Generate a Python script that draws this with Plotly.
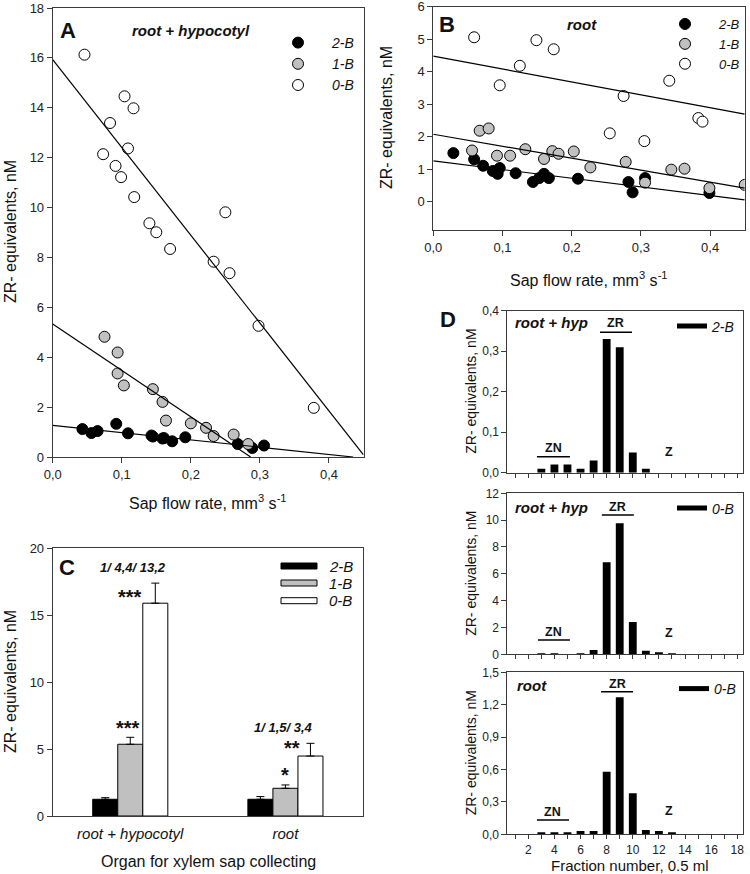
import plotly.graph_objects as go

W, H = 750, 874
FONT = "Liberation Sans, Arial, sans-serif"

# ---------------- Panel A data (root + hypocotyl) ----------------
a_x_2B = [0.043, 0.056, 0.065, 0.092, 0.109, 0.143, 0.145, 0.159, 0.161, 0.173, 0.192, 0.268, 0.289, 0.306]
a_y_2B = [1.12, 0.96, 1.04, 1.33, 0.95, 0.86, 0.82, 0.74, 0.76, 0.63, 0.79, 0.52, 0.36, 0.46]
a_x_1B = [0.075, 0.094, 0.094, 0.103, 0.145, 0.159, 0.164, 0.200, 0.222, 0.233, 0.262, 0.283]
a_y_1B = [4.82, 4.19, 3.35, 2.87, 2.72, 2.21, 1.46, 1.35, 1.17, 0.84, 0.90, 0.52]
a_x_0B = [0.046, 0.104, 0.117, 0.083, 0.109, 0.073, 0.091, 0.099, 0.118, 0.140, 0.150, 0.170, 0.250, 0.233, 0.256, 0.298, 0.378]
a_y_0B = [16.13, 14.46, 13.98, 13.39, 12.37, 12.14, 11.67, 11.22, 10.42, 9.37, 9.01, 8.34, 9.81, 7.83, 7.37, 5.26, 1.97]
a_fit_intercept = [1.27, 5.33, 15.93]   # 2-B, 1-B, 0-B
a_fit_slope = [-2.92, -18.6, -35.2]

# ---------------- Panel B data (root) ----------------
b_x_2B = [0.029, 0.059, 0.072, 0.086, 0.093, 0.096, 0.119, 0.144, 0.153, 0.160, 0.167, 0.209, 0.282, 0.288, 0.306, 0.399]
b_y_2B = [1.49, 1.30, 1.10, 0.94, 0.85, 1.03, 0.87, 0.60, 0.72, 0.85, 0.72, 0.70, 0.60, 0.28, 0.72, 0.26]
b_x_1B = [0.056, 0.067, 0.080, 0.092, 0.111, 0.133, 0.160, 0.172, 0.181, 0.203, 0.227, 0.278, 0.306, 0.344, 0.363, 0.399, 0.450]
b_y_1B = [1.57, 2.18, 2.25, 1.41, 1.41, 1.61, 1.31, 1.55, 1.47, 1.54, 1.05, 1.22, 0.58, 0.98, 1.01, 0.41, 0.51]
b_x_0B = [0.059, 0.149, 0.174, 0.125, 0.096, 0.341, 0.275, 0.383, 0.389, 0.255, 0.305]
b_y_0B = [5.06, 4.97, 4.69, 4.18, 3.58, 3.72, 3.25, 2.57, 2.46, 2.10, 1.86]
b_fit_intercept = [1.25, 2.07, 4.48]
b_fit_slope = [-2.67, -3.69, -3.98]

# ---------------- Panel C data ----------------
c_categories = ["root + hypocotyl", "root"]
c_mean_2B = [1.25, 1.25]
c_mean_1B = [5.36, 2.07]
c_mean_0B = [15.9, 4.48]
c_err_2B = [0.12, 0.2]
c_err_1B = [0.52, 0.25]
c_err_0B = [1.5, 0.95]
c_ratio_labels = ["1/ 4,4/ 13,2", "1/ 1,5/ 3,4"]

# ---------------- Panel D data ----------------
d_fractions = [3, 4, 5, 6, 7, 8, 9, 10, 11, 12, 13]
d_top_2B = [0.01, 0.02, 0.02, 0.01, 0.03, 0.33, 0.31, 0.05, 0.01, 0.0, 0.0]
d_mid_0B = [0.03, 0.03, 0.0, 0.06, 0.32, 6.86, 9.76, 2.4, 0.27, 0.12, 0.05]
d_bot_0B = [0.02, 0.01, 0.01, 0.03, 0.03, 0.58, 1.27, 0.38, 0.04, 0.03, 0.02]

series_names = ["2-B", "1-B", "0-B"]
series_fill = ["#000000", "#c0c0c0", "#ffffff"]


def px(x):
    return x / W


def py(y):
    return 1 - y / H


LINE = "#3a3a3a"
axis_common = dict(showline=True, linecolor=LINE, linewidth=1, mirror=True, ticks="outside",
                   ticklen=5, tickcolor=LINE, tickfont=dict(size=13, color="#222", family=FONT),
                   showgrid=False, zeroline=False, automargin=False, ticklabeloverflow="allow")

fig = go.Figure()


def add_scatter_panel(xs, ys, ints, slopes, xa, ya, legend, xmax):
    for i in range(3):
        fig.add_trace(go.Scatter(
            x=xs[i], y=ys[i], mode="markers", name="<i>%s</i>" % series_names[i],
            marker=dict(size=11, color=series_fill[i], line=dict(color="black", width=1)),
            xaxis=xa, yaxis=ya, legend=legend, showlegend=True))
    for i in range(3):
        x_end = min(xmax, -ints[i] / slopes[i])
        fig.add_trace(go.Scatter(
            x=[0, x_end], y=[ints[i], ints[i] + slopes[i] * x_end], mode="lines",
            line=dict(color="black", width=1.2), xaxis=xa, yaxis=ya, showlegend=False,
            hoverinfo="skip"))


add_scatter_panel([a_x_2B, a_x_1B, a_x_0B], [a_y_2B, a_y_1B, a_y_0B],
                  a_fit_intercept, a_fit_slope, "x", "y", "legend", 0.45)
add_scatter_panel([b_x_2B, b_x_1B, b_x_0B], [b_y_2B, b_y_1B, b_y_0B],
                  b_fit_intercept, b_fit_slope, "x2", "y2", "legend2", 0.45)

# Panel C bars
c_means = [c_mean_2B, c_mean_1B, c_mean_0B]
c_errs = [c_err_2B, c_err_1B, c_err_0B]
for i in range(3):
    fig.add_trace(go.Bar(
        x=c_categories, y=c_means[i], name=series_names[i],
        marker=dict(color=series_fill[i], line=dict(color="black", width=1)),
        error_y=dict(type="data", symmetric=False, array=c_errs[i], arrayminus=[0, 0],
                     color="black", thickness=1, width=4),
        xaxis="x3", yaxis="y3", showlegend=False))

# Panel D bars
d_sets = [(d_top_2B, "x4", "y4", "legend4", "2-B"),
          (d_mid_0B, "x5", "y5", "legend5", "0-B"),
          (d_bot_0B, "x6", "y6", "legend6", "0-B")]
for vals, xa, ya, lg, nm in d_sets:
    fig.add_trace(go.Bar(x=d_fractions, y=vals, width=0.6, marker=dict(color="black", line=dict(width=0)),
                         xaxis=xa, yaxis=ya, showlegend=False))
    fig.add_trace(go.Scatter(x=[None], y=[None], mode="lines", name="<i>%s</i>" % nm,
                             line=dict(color="black", width=5), xaxis=xa, yaxis=ya,
                             legend=lg, showlegend=True))

xt = [0, 0.1, 0.2, 0.3, 0.4]
xtt = ["0,0", "0,1", "0,2", "0,3", "0,4"]

layout = dict(
    width=W, height=H, margin=dict(l=0, r=0, t=0, b=0, autoexpand=False),
    paper_bgcolor="white", plot_bgcolor="white",
    font=dict(family=FONT, color="#111"),
    barmode="group", bargap=0.516, bargroupgap=0,
    xaxis=dict(axis_common, domain=[px(52.7), px(363.5)], range=[0, 0.45], tickvals=xt, ticktext=xtt,
               anchor="y"),
    yaxis=dict(axis_common, domain=[py(457), py(8)], range=[0, 18.001], dtick=2, anchor="x"),
    xaxis2=dict(axis_common, domain=[px(433.3), px(744.7)], range=[0, 0.45], tickvals=xt, ticktext=xtt,
                anchor="y2"),
    yaxis2=dict(axis_common, domain=[py(230), py(6.7)], range=[-0.88, 6.002], tickvals=[0, 1, 2, 3, 4, 5, 6],
                anchor="x2"),
    xaxis3=dict(axis_common, domain=[px(52.7), px(363)], range=[-0.5, 1.5], ticks="",
                tickvals=[0, 1], ticktext=["<i>%s</i>" % c for c in c_categories], ticklabelstandoff=4,
                tickfont=dict(size=15, family=FONT, color="#111"), anchor="y3"),
    yaxis3=dict(axis_common, domain=[py(816), py(548.3)], range=[0, 20.001], dtick=5, anchor="x3"),
)

d_dom = [(310.7, 472.7), (493.3, 654.3), (672.3, 834.3)]
d_yt = [([0, 0.1, 0.2, 0.3, 0.4], ["0,0", "0,1", "0,2", "0,3", "0,4"], [0, 0.4001]),
        ([0, 2, 4, 6, 8, 10, 12], ["0", "2", "4", "6", "8", "10", "12"], [0, 12.001]),
        ([0, 0.3, 0.6, 0.9, 1.2, 1.5], ["0,0", "0,3", "0,6", "0,9", "1,2", "1,5"], [0, 1.5001])]
frac_ticks = list(range(1, 19))
frac_text = [str(v) if v % 2 == 0 else "" for v in frac_ticks]
for k in range(3):
    xa = "xaxis%d" % (4 + k)
    ya = "yaxis%d" % (4 + k)
    top, bot = d_dom[k]
    layout[xa] = dict(axis_common, domain=[px(507.4), px(742.5)], range=[0.4, 18.4], tickvals=frac_ticks,
                      ticktext=frac_text, showticklabels=(k == 2), ticklen=4, anchor="y%d" % (4 + k),
                      tickfont=dict(size=12, family=FONT, color="#222"))
    layout[ya] = dict(axis_common, domain=[py(bot), py(top)], range=d_yt[k][2], tickvals=d_yt[k][0],
                      ticktext=d_yt[k][1], anchor="x%d" % (4 + k), tickfont=dict(size=12, family=FONT, color="#222"))

leg_common = dict(bgcolor="rgba(0,0,0,0)", font=dict(size=14, family=FONT, color="#111"),
                  xanchor="left", yanchor="top", tracegroupgap=0, itemwidth=30)
layout["legend"] = dict(leg_common, x=px(264), y=py(27), itemwidth=58)
layout["legend2"] = dict(leg_common, x=px(651), y=py(9), itemwidth=58,
                         font=dict(size=13, family=FONT, color="#111"))
layout["legend4"] = dict(leg_common, x=px(672), y=py(310.5))
layout["legend5"] = dict(leg_common, x=px(672), y=py(492.5))
layout["legend6"] = dict(leg_common, x=px(674), y=py(673))

fig.update_layout(**layout)

ann = []
shapes = []


def text(x, y, s, size, xref="paper", yref="paper", **kw):
    d = dict(x=x, y=y, text=s, xref=xref, yref=yref, showarrow=False,
             xanchor="center", yanchor="middle",
             font=dict(size=size, family=FONT, color="#111"))
    d.update(kw)
    ann.append(d)


# axis titles
sap_title = "Sap flow rate, mm<sup>3</sup> s<sup>-1</sup>"
zr_title = "ZR- equivalents, nM"
text(px(208), py(502), sap_title, 16)
text(px(589), py(279), sap_title, 16)
text(px(10), py(232), zr_title, 16, textangle=-90)
text(px(386), py(118), zr_title, 16, textangle=-90)
text(px(10), py(682), zr_title, 16, textangle=-90)
text(px(208), py(861), "Organ for xylem sap collecting", 16)
for top, bot in d_dom:
    text(px(471), py((top + bot) / 2), zr_title, 14, textangle=-90)
text(px(630), py(865), "Fraction number, 0.5 ml", 15)

# panel letters
text(px(68), py(30), "<b>A</b>", 22)
text(px(447), py(25), "<b>B</b>", 22)
text(px(67), py(567), "<b>C</b>", 22)
text(px(448), py(320), "<b>D</b>", 22)
text(px(191), py(30), "<b><i>root + hypocotyl</i></b>", 15)
text(px(582), py(25), "<b><i>root</i></b>", 15)

# panel C annotations
text(0.02, 18.6, "<b><i>%s</i></b>" % c_ratio_labels[0], 13, "x3", "y3")
text(0.99, 6.6, "<b><i>%s</i></b>" % c_ratio_labels[1], 13, "x3", "y3")
text(0.0, 16.4, "<b>***</b>", 20, "x3", "y3")
text(-0.015, 6.55, "<b>***</b>", 20, "x3", "y3")
text(1.04, 5.05, "<b>**</b>", 20, "x3", "y3")
text(1.0, 3.05, "<b>*</b>", 20, "x3", "y3")

# panel C legend
c_leg_rows = [566, 583, 600.7]
for i in range(3):
    r = c_leg_rows[i]
    shapes.append(dict(type="rect", xref="paper", yref="paper", x0=px(281), x1=px(317),
                       y0=py(r + 3), y1=py(r - 3), fillcolor=series_fill[i],
                       line=dict(color="black", width=1)))
    text(px(327), py(r), "<i>%s</i>" % series_names[i], 15, xanchor="left")

# panel D annotations
d_ann = [
    # (axis suffix, label, label x, label y, ZR x, ZR y, ZR line y, ZR x0, x1, ZN y, ZN line y, ZN x0, x1, Z y)
    ("4", "root + hyp", 3.78, 0.37, 8.71, 0.37, 0.347, 7.49, 9.94, 0.061, 0.0395, 2.66, 5.19, 0.052),
    ("5", "root + hyp", 3.78, 10.92, 8.85, 11.0, 10.38, 7.63, 10.08, 1.68, 1.07, 2.74, 5.19, 1.59),
    ("6", "root", 2.28, 1.376, 8.8, 1.392, 1.32, 7.57, 10.02, 0.209, 0.132, 2.66, 5.12, 0.218),
]
for (s, lab, lx, ly, zrx, zry, zrly, zr0, zr1, zny, znly, zn0, zn1, zy) in d_ann:
    xr, yr = "x" + s, "y" + s
    text(lx, ly, "<b><i>%s</i></b>" % lab, 15, xr, yr)
    text(zrx, zry, "<b>ZR</b>", 12.5, xr, yr)
    text((zn0 + zn1) / 2, zny, "<b>ZN</b>", 12.5, xr, yr)
    text(12.8, zy, "<b>Z</b>", 12.5, xr, yr)
    shapes.append(dict(type="line", xref=xr, yref=yr, x0=zr0, x1=zr1, y0=zrly, y1=zrly,
                       line=dict(color="black", width=1.5)))
    shapes.append(dict(type="line", xref=xr, yref=yr, x0=zn0, x1=zn1, y0=znly, y1=znly,
                       line=dict(color="black", width=1.5)))

fig.update_layout(annotations=ann, shapes=shapes)
fig.write_html("out.html", config={"displayModeBar": False},
               post_script="document.body.style.margin='0';document.body.style.overflow='hidden';")
